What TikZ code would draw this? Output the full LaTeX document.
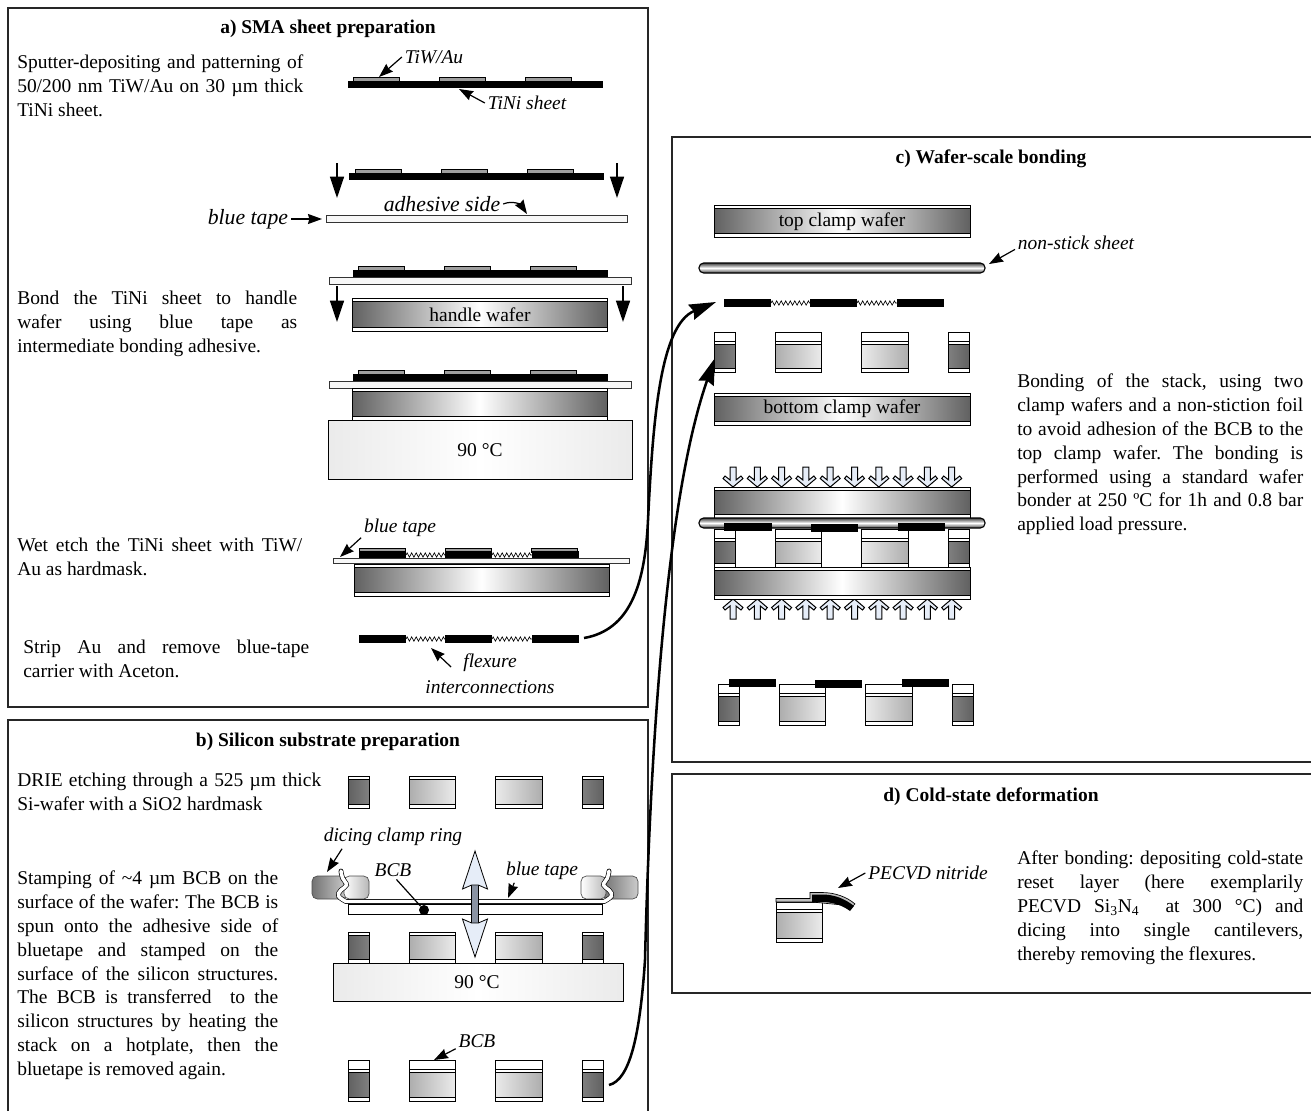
\documentclass[tikz,border=0pt]{standalone}
\usepackage{fontspec}
\setmainfont{Liberation Serif}
\usetikzlibrary{arrows.meta, decorations.pathmorphing}
\frenchspacing
\definecolor{pressblue}{HTML}{E6EDF8}
\definecolor{shaftgray}{HTML}{8A93A3}
\tikzset{
  body/.style={anchor=north west, inner sep=0pt, align=justify,
    font=\fontsize{14.6pt}{17.85pt}\selectfont},
  heading/.style={font=\fontsize{14.6pt}{17.85pt}\selectfont\bfseries},
  lbl/.style={inner sep=2pt, font=\fontsize{14.6pt}{17.85pt}\selectfont\itshape},
  biglbl/.style={inner sep=2pt, font=\fontsize{16.3pt}{18pt}\selectfont\itshape},
  plain/.style={inner sep=0pt, font=\fontsize{14.6pt}{17.85pt}\selectfont},
  panel/.style={line width=1.1pt, draw=black!85},
  layer/.style={line width=0.75pt, draw=black},
  arr/.style={-{Stealth[length=10.5pt, width=7.5pt, inset=1pt]}, line width=0.9pt},
  bigarr/.style={-{Stealth[length=16pt, width=10.5pt, inset=0pt]}, line width=1.1pt},
  transfer/.style={-{Stealth[length=20pt, width=12pt, inset=2pt]}, line width=1.9pt},
  waferfill/.style={left color=black!62, right color=black!62, middle color=white},
  darkleft/.style={left color=black!62, right color=black!50},
  lightleft/.style={left color=black!32, right color=black!8},
  lightright/.style={left color=black!8, right color=black!32},
  darkright/.style={left color=black!50, right color=black!62},
  hotplate/.style={left color=black!8, right color=black!8, middle color=white},
  tape/.style={line width=0.6pt, draw=black!80, fill=black!3},
  sheetbar/.style={fill=black},
  padbar/.style={line width=0.6pt, draw=black, fill=black!38},
  spring/.style={line width=0.5pt, decorate,
    decoration={zigzag, segment length=3.4pt, amplitude=1.6pt}},
  pressarrow/.style={line width=0.75pt, draw=black, fill=pressblue},
  nonstick/.style={line width=0.85pt, draw=black, rounded corners=3.5pt,
    top color=black!75, bottom color=black!75, middle color=white},
}
% Wafer with thin oxide on both faces
\newcommand{\wafer}[4]{
  \shade[waferfill] ({#1},{#2}) rectangle ({#3},{#4});
  \draw[layer, fill=white] ({#1},{#2}) rectangle ({#3},{#2+3.6});
  \draw[layer, fill=white] ({#1},{#4-3.6}) rectangle ({#3},{#4});
  \draw[layer] ({#1},{#2}) rectangle ({#3},{#4});
}
\newcommand{\pillar}[5]{
  \shade[#5] ({#1},{#3}) rectangle ({#2},{#4});
  \draw[layer, fill=white] ({#1},{#3}) rectangle ({#2},{#3+3.4});
  \draw[layer, fill=white] ({#1},{#4-3.4}) rectangle ({#2},{#4});
  \draw[layer] ({#1},{#3}) rectangle ({#2},{#4});
}
\newcommand{\pillarrow}[3]{
  \foreach \xa/\xb/\sh in {348/369/darkleft, 409/455/lightleft, 495/542/lightright, 582/603/darkright}
    {\pillar{\xa+#1}{\xb+#1}{#2}{#3}{\sh}}
}
\newcommand{\bcbrow}[3]{
  \foreach \xa/\xb/\sh in {348/369/darkleft, 409/455/lightleft, 495/542/lightright, 582/603/darkright}
    {\draw[layer, fill=white] ({\xa+#1},{#2}) rectangle ({\xb+#1},{#2+9});
     \pillar{\xa+#1}{\xb+#1}{#2+9}{#3}{\sh}}
}
\newcommand{\padrow}[3]{
  \foreach \dx in {0,86,172.5}
    {\draw[padbar] ({#1+\dx},{#2}) rectangle ({#1+\dx+46},{#3});}
}
\newcommand{\flexsheet}[3]{
  \draw[spring] ({#1+47},{(#2+#3)/2}) -- ({#1+86},{(#2+#3)/2});
  \draw[spring] ({#1+133},{(#2+#3)/2}) -- ({#1+173},{(#2+#3)/2});
  \foreach \dx in {0,86,173}
    {\fill[sheetbar] ({#1+\dx},{#2}) rectangle ({#1+\dx+47},{#3});}
}
\newcommand{\clampring}{
  \shade[left color=black!55, right color=black!20, draw=black!70, line width=0.5pt,
    rounded corners=4pt] (312,876) rectangle (347,899);
  \shade[left color=white, right color=black!28, draw=black!70, line width=0.5pt,
    rounded corners=4pt] (344,876) rectangle (369,899);
  \draw[line width=0.5pt, double=white, double distance=2.6pt, line cap=round]
    plot[smooth, tension=0.7] coordinates {(341,871) (342.5,878) (346.5,885) (341,890) (338.5,896) (346,901.5)}
    -- (476,901.5);
}
\begin{document}
\begin{tikzpicture}[x=0.75pt, y=-0.75pt]
\useasboundingbox (0,0) rectangle (1311,1111);

% Panels
\draw[panel] (8,8) rectangle (648,707);
\draw[panel] (8,1111) -- (8,720) -- (648,720) -- (648,1111);
\draw[panel] (1311,137) -- (672,137) -- (672,762) -- (1311,762);
\draw[panel] (1311,774) -- (672,774) -- (672,993) -- (1311,993);

% Headings
\node (heada) [heading] at (328,29) {a) SMA sheet preparation};
\node (headb) [heading] at (328,742) {b) Silicon substrate preparation};
\node (headc) [heading] at (991,159) {c) Wafer-scale bonding};
\node (headd) [heading] at (991,797) {d) Cold-state deformation};

% Panel a, texts
\node (txta1) [body, text width=214.5pt] at (17,55)
  {Sputter-depositing and patterning of\linebreak 50/200 nm TiW/Au on 30 µm thick\linebreak TiNi sheet.};
\node (txta2) [body, text width=210pt] at (17,291)
  {Bond the TiNi sheet to handle\linebreak wafer using blue tape as\linebreak intermediate bonding adhesive.};
\node (txta3) [body, text width=213.75pt] at (17,538)
  {Wet etch the TiNi sheet with TiW/\linebreak Au as hardmask.};
\node (txta4) [body, text width=214.5pt] at (23,640)
  {Strip Au and remove blue-tape\linebreak carrier with Aceton.};

% Step 1
\padrow{353}{77}{81}
\fill[sheetbar] (348,81) rectangle (603,88);
\node (tiwlbl) [lbl] at (434,57) {TiW/Au};
\coordinate (tiwtip) at (379,77);
\draw[arr] (tiwlbl.west) -- (tiwtip);
\node (tinilbl) [lbl] at (527,103) {TiNi sheet};
\coordinate (tinitip) at (459,89);
\draw[arr] (tinilbl.west) -- (tinitip);

% Step 2
\padrow{355}{169}{173}
\fill[sheetbar] (349,173) rectangle (604,180);
\foreach \x in {337,617}
  \draw[bigarr] (\x,163) -- (\x,198);
\draw[tape] (326,215) rectangle (627,222);
\node (adhlbl) [biglbl] at (442,204) {adhesive side};
\coordinate (adhtip) at (527,214);
\draw[arr] (adhlbl.east) .. controls (513,200) and (521,205) .. (adhtip);
\node (bluelbla) [biglbl, anchor=east] at (291,219) {blue tape};
\coordinate (bluetipa) at (322,219);
\draw[arr] (bluelbla.east) -- (bluetipa);

% Step 3
\padrow{358}{266}{270}
\fill[sheetbar] (353,270) rectangle (608,277);
\draw[tape] (329,277) rectangle (631,284);
\foreach \x in {337,623}
  \draw[bigarr] (\x,286) -- (\x,322);
\wafer{352}{298}{607}{331}
\node (hwafera) [plain] at (480,315) {handle wafer};

% Step 4
\padrow{358}{370}{374}
\fill[sheetbar] (353,374) rectangle (608,381);
\draw[tape] (329,381) rectangle (631,388);
\wafer{352}{388}{607}{420}
\shade[hotplate] (328,420) rectangle (632,479);
\draw[layer, line width=0.6pt] (328,420) rectangle (632,479);
\node (hota) [plain] at (480,450) {90 °C};

% Step 5
\padrow{359}{548}{552}
\flexsheet{359}{551}{559}
\draw[tape] (333,558) rectangle (629,563);
\wafer{354}{564}{609}{596}
\node (bluelblb) [lbl] at (400,528) {blue tape};
\coordinate (bluetipb) at (340,557);
\draw[arr] (bluelblb.194) -- (bluetipb);

% Step 6
\flexsheet{359}{635}{643}
\node (flexlbl) [lbl] at (490,663) {flexure};
\node (flexlblb) [lbl] at (490,687) {interconnections};
\coordinate (flextip) at (431,648);
\draw[arr] ([xshift=-7pt, yshift=-3pt]flexlbl.west) -- (flextip);

% Panel b, texts
\node (txtb1) [body, text width=228pt] at (17,773)
  {DRIE etching through a 525 µm thick\linebreak Si-wafer with a SiO2 hardmask};
\node (txtb2) [body, text width=195.75pt] at (17,871)
  {Stamping of \textasciitilde 4 µm BCB on the\linebreak surface of the wafer: The BCB is\linebreak spun onto the adhesive side of\linebreak bluetape and stamped on the\linebreak surface of the silicon structures.\linebreak The BCB is transferred\ \ to the\linebreak silicon structures by heating the\linebreak stack on a hotplate, then the\linebreak bluetape is removed again.};

% Etched pillars
\pillarrow{0}{776}{808}

% Stamping
\clampring
\begin{scope}[shift={(950,0)}, xscale=-1]
  \clampring
\end{scope}
\draw[layer, fill=white] (348,904) rectangle (602,914);
\pillarrow{0}{932}{963}
\shade[hotplate] (333,963) rectangle (623,1001);
\draw[layer, line width=0.6pt] (333,963) rectangle (623,1001);
\node (hotb) [plain] at (477,982) {90 °C};
\fill[shaftgray] (471.7,880) rectangle (478.3,928);
\draw[line width=0.6pt] (471.7,880) -- (471.7,928) (478.3,880) -- (478.3,928);
\draw[line width=0.6pt, fill=pressblue] (475,851) -- (487.5,889) -- (478.3,885) -- (471.7,885) -- (462.5,889) -- cycle;
\draw[line width=0.6pt, fill=pressblue] (475,957) -- (487.5,919) -- (478.3,923) -- (471.7,923) -- (462.5,919) -- cycle;
\node (bcbdot) [circle, fill=black, inner sep=0pt, minimum size=7.5pt] at (424,910) {};
\node (bcblbla) [lbl] at (393,870) {BCB};
\draw[line width=0.9pt] (bcblbla.-70) -- (bcbdot);
\node (bluelblc) [lbl] at (542,871) {blue tape};
\coordinate (bluetipc) at (508,898);
\draw[arr] (bluelblc.203) -- (bluetipc);
\node (diclbl) [lbl] at (393,837) {dicing clamp ring};
\coordinate (dictip) at (327,872);
\draw[arr] (diclbl.193) -- (dictip);

% BCB on pillars
\bcbrow{0}{1060}{1101}
\node (bcblblb) [lbl] at (477,1041) {BCB};
\coordinate (bcbtip) at (434,1060);
\draw[arr] (bcblblb.200) -- (bcbtip);

% Panel c, parts
\wafer{714}{205}{970}{237}
\node (topclamp) [plain] at (842,222) {top clamp wafer};
\draw[nonstick] (699,263) rectangle (985,273);
\node (nslbl) [lbl] at (1076,243) {non-stick sheet};
\coordinate (nstip) at (989,264);
\draw[arr] (nslbl.186) -- (nstip);
\flexsheet{724}{299}{307}
\bcbrow{366.5}{332}{372}
\wafer{714}{393}{970}{425}
\node (botclamp) [plain] at (842,409) {bottom clamp wafer};

% Panel c, stack under load
\foreach \i in {0,...,9} {
  \draw[pressarrow, shift={({733+24.3*\i},467)}]
    (-3,0) -- (3,0) -- (3,13) -- (8,9) -- (10,11.5) -- (0,20) -- (-10,11.5) -- (-8,9) -- (-3,13) -- cycle;
  \draw[pressarrow, shift={({733+24.3*\i},619)}, yscale=-1]
    (-3,0) -- (3,0) -- (3,13) -- (8,9) -- (10,11.5) -- (0,20) -- (-10,11.5) -- (-8,9) -- (-3,13) -- cycle;
}
\wafer{714}{487}{970}{518}
\bcbrow{366.5}{529}{567}
\wafer{714}{567}{970}{599}
\draw[nonstick] (699,518) rectangle (985,528);
\fill[sheetbar] (724,523) rectangle (772,531);
\fill[sheetbar] (811,524) rectangle (858,532);
\fill[sheetbar] (898,523) rectangle (945,531);

% Panel c, after bonding
\bcbrow{370.5}{684}{725}
\fill[sheetbar] (729,679) rectangle (776,687);
\fill[sheetbar] (815,680) rectangle (862,688);
\fill[sheetbar] (902,679) rectangle (949,687);

% Panel c, text
\node (txtc) [body, text width=214.5pt] at (1017,374)
  {Bonding of the stack, using two\linebreak clamp wafers and a non-stiction foil\linebreak to avoid adhesion of the BCB to the\linebreak top clamp wafer. The bonding is\linebreak performed using a standard wafer\linebreak bonder at 250 ºC for 1h and 0.8 bar\linebreak applied load pressure.};

% Panel d
\draw[layer, fill=white] (776,902) rectangle (822,909.5);
\pillar{776}{822}{909.5}{942}{lightleft}
\draw[line width=0.5pt, fill=black!25] (776,902) -- (776,898.5) -- (810,898.5) -- (810,892.5) -- (822,892.5)
  .. controls (835,892.5) and (847,897) .. (855,904) -- (853,906) -- (812,902) -- cycle;
\fill[sheetbar] (812,894.5) -- (822,894.5) .. controls (835,894.5) and (845,899) .. (854,906)
  -- (850,911) .. controls (842,905) and (832,902) .. (822,902) -- (812,902) -- cycle;
\node (nitlbl) [lbl] at (928,873) {PECVD nitride};
\coordinate (nittip) at (838,888);
\draw[arr] (nitlbl.west) -- (nittip);
\node (txtd) [body, text width=214.5pt] at (1017,851)
  {After bonding: depositing cold-state\linebreak reset layer (here exemplarily\linebreak PECVD Si\textsubscript{3}N\textsubscript{4}\ \ at 300 °C) and\linebreak dicing into single cantilevers,\linebreak thereby removing the flexures.};

% Transfer arrows
\coordinate (flexout) at (584,638);
\coordinate (flexin) at (716,302);
\coordinate (pillarout) at (609,1085);
\coordinate (pillarin) at (715,358);
\draw[transfer] (flexout) .. controls (630,630) and (645,585) .. (648,520)
  .. controls (653,420) and (660,325) .. (flexin);
\draw[transfer] (pillarout) .. controls (630,1080) and (640,1035) .. (645,960)
  .. controls (650,760) and (665,500) .. (pillarin);

\end{tikzpicture}
\end{document}
